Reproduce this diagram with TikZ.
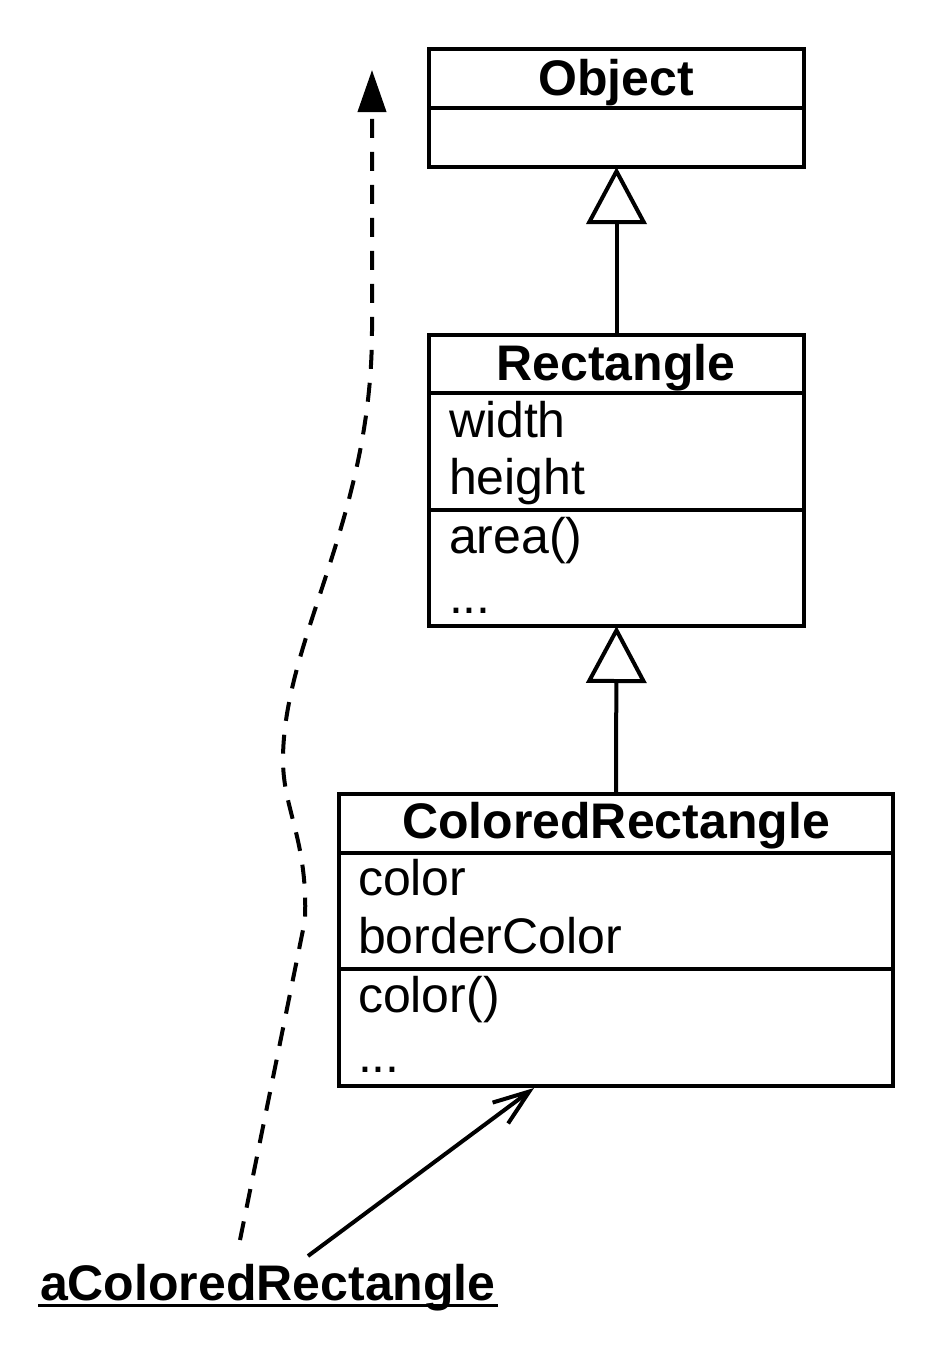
\documentclass[tikz,border=0pt]{standalone}
\usepackage{fontspec}
\setmainfont{Liberation Sans}
\usetikzlibrary{arrows.meta}
\begin{document}
\begin{tikzpicture}[x=1pt,y=-1pt,line width=4pt,
  cls/.style={draw,inner sep=0pt,outer sep=0pt,anchor=north west,fill=white},
  title/.style={anchor=base,inner sep=0pt,font=\fontsize{50}{60}\selectfont\bfseries},
  item/.style={anchor=base west,inner sep=0pt,font=\fontsize{50}{60}\selectfont},
  inherit/.style={-{Triangle[open,length=57pt,width=60pt]}},
  assoc/.style={-{Straight Barb[length=36pt,width=26pt]}},
  depend/.style={dash pattern=on 19pt off 14pt,-{Triangle[length=42pt,width=28pt]}}]
\useasboundingbox (0,0) rectangle (937,1349);
% Object
\node[cls,minimum width=375pt,minimum height=118pt] (obj) at (429,49) {};
\draw ([yshift=-59pt]obj.north west) -- ([yshift=-59pt]obj.north east);
\node[title] (objT) at (616,95) {Object};
% Rectangle
\node[cls,minimum width=375pt,minimum height=291pt] (rect) at (429,335) {};
\draw ([yshift=-58pt]rect.north west) -- ([yshift=-58pt]rect.north east);
\draw ([yshift=-175pt]rect.north west) -- ([yshift=-175pt]rect.north east);
\node[title] (rectT) at (616,380) {Rectangle};
\node[item] (rw) at (447,437) {width};
\node[item] (rh) at (447,494) {height};
\node[item] (ra) at (447,553) {area()};
\node[item] (rd) at (447,613) {...};
% ColoredRectangle
\node[cls,minimum width=554pt,minimum height=292pt] (cr) at (339,794) {};
\draw ([yshift=-59pt]cr.north west) -- ([yshift=-59pt]cr.north east);
\draw ([yshift=-175pt]cr.north west) -- ([yshift=-175pt]cr.north east);
\node[title] (crT) at (616,838) {ColoredRectangle};
\node[item] (cc) at (356,895) {color};
\node[item] (cb) at (356,953) {borderColor};
\node[item] (cf) at (356,1012) {color()};
\node[item] (cd) at (356,1072) {...};
% instance
\node[item,font=\fontsize{50}{60}\selectfont\bfseries] (inst) at (38,1300) {aColoredRectangle};
\draw[line width=3pt] ([yshift=-5pt]inst.base west) -- ([yshift=-5pt]inst.base east);
% connectors
\draw[inherit] (rect.north) -- (obj.south);
\draw[inherit] (cr.north) -- (rect.south);
\coordinate (aStart) at (308,1256);
\coordinate (aEnd) at (534,1088);
\draw[assoc] (aStart) -- (aEnd);
\coordinate (dStart) at (240,1240);
\coordinate (dEnd) at (372,70);
\draw[depend] (dStart) -- (305,920) .. controls (308,840) and (283,810) .. (283,760)
  .. controls (283,640) and (372,520) .. (372,330) -- (dEnd);
\end{tikzpicture}
\end{document}
